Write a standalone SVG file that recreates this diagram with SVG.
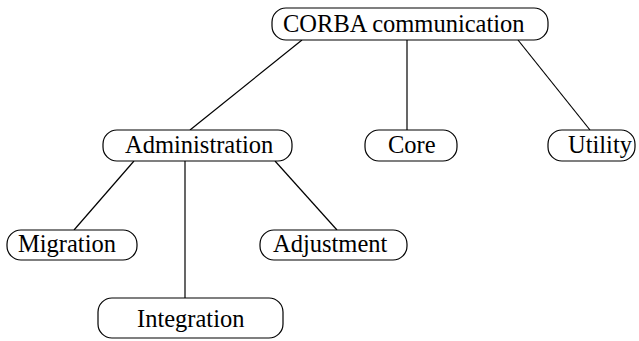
<svg xmlns="http://www.w3.org/2000/svg" width="639" height="341" viewBox="0 0 639 341">
<style>
.box{fill:#fff;stroke:#000;stroke-width:1.2}
.lbl{font-family:"Liberation Serif","Times New Roman",serif;font-size:24.5px;fill:#000}
.edge{stroke:#000;stroke-width:1.2;fill:none}
</style>
<rect width="639" height="341" fill="#fff"/>
<g id="connectors">
<line class="edge" x1="302" y1="40" x2="190" y2="130"/>
<line class="edge" x1="407" y1="40" x2="407" y2="130"/>
<line class="edge" x1="518" y1="40" x2="590" y2="130"/>
<line class="edge" x1="134" y1="161" x2="74" y2="230"/>
<line class="edge" x1="185" y1="161" x2="185" y2="298"/>
<line class="edge" x1="275" y1="161" x2="337" y2="230"/>
</g>
<g id="corba">
<rect class="box" x="272" y="8" width="276" height="32" rx="14"/>
<text class="lbl" x="283" y="32">CORBA communication</text>
</g>
<g id="administration">
<rect class="box" x="103" y="130" width="189" height="31" rx="14"/>
<text class="lbl" x="125" y="153">Administration</text>
</g>
<g id="core">
<rect class="box" x="365" y="130" width="92" height="31" rx="14"/>
<text class="lbl" x="388" y="153">Core</text>
</g>
<g id="utility">
<rect class="box" x="548" y="130" width="87" height="31" rx="14"/>
<text class="lbl" x="568" y="153">Utility</text>
</g>
<g id="migration">
<rect class="box" x="7" y="230" width="130" height="30" rx="14"/>
<text class="lbl" x="18" y="252">Migration</text>
</g>
<g id="adjustment">
<rect class="box" x="260" y="230" width="147" height="30" rx="14"/>
<text class="lbl" x="273" y="252">Adjustment</text>
</g>
<g id="integration">
<rect class="box" x="98" y="298" width="185" height="40" rx="14"/>
<text class="lbl" x="137" y="327">Integration</text>
</g>
</svg>
